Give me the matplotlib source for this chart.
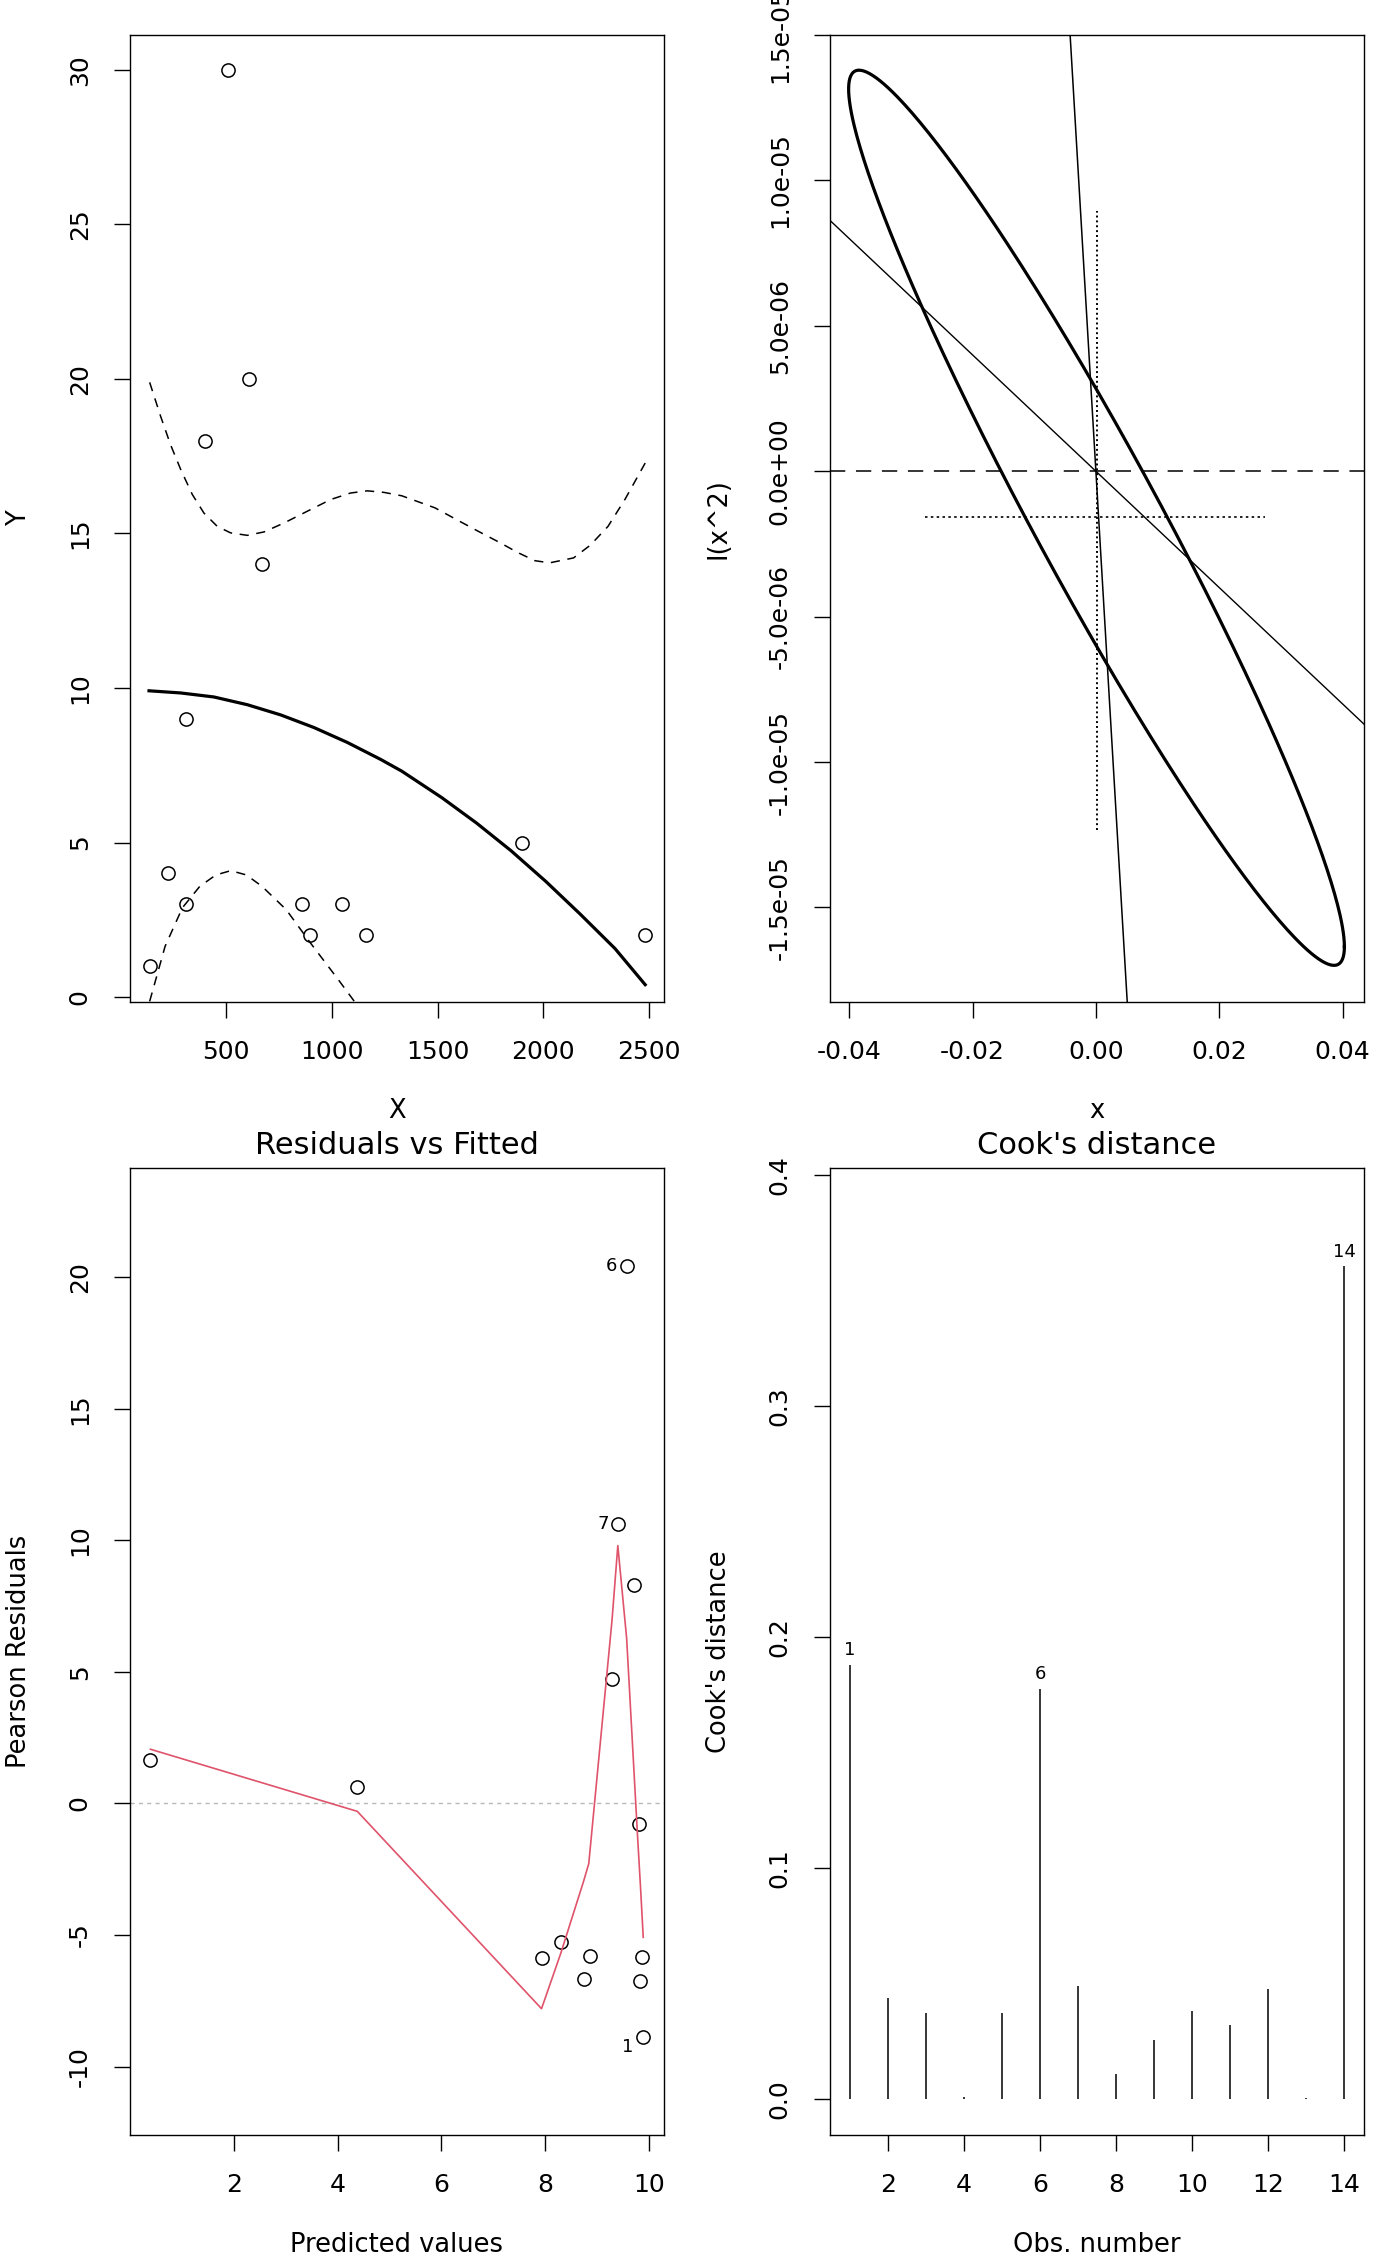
import numpy as np
import matplotlib
matplotlib.use("Agg")
import matplotlib.pyplot as plt

plt.rcParams['font.family'] = 'DejaVu Sans'
plt.rcParams['axes.unicode_minus'] = False

# observations (sorted by X)
X = [137, 226, 308, 308, 397, 506, 609, 668, 859, 898, 1049, 1160, 1900, 2482]
Y = [1, 4, 3, 9, 18, 30, 20, 14, 3, 2, 3, 2, 5, 2]

# fitted quadratic and bands
fit_x = [134, 284, 441, 599, 757, 915, 1072, 1230, 1330, 1520, 1684, 1848, 2012, 2175, 2339, 2482]
fit_y = [9.91, 9.84, 9.71, 9.46, 9.13, 8.72, 8.24, 7.69, 7.31, 6.45, 5.63, 4.73, 3.74, 2.68, 1.57, 0.40]
up_x = [137, 189, 236, 284, 339, 394, 457, 520, 599, 678, 773, 883, 994, 1088, 1167, 1246, 1330,
        1487, 1589, 1684, 1790, 1880, 1960, 2030, 2143, 2222, 2306, 2386, 2482]
up_y = [19.89, 18.79, 17.87, 17.07, 16.26, 15.66, 15.23, 15.02, 14.94, 15.05, 15.34, 15.72, 16.10,
        16.31, 16.38, 16.33, 16.22, 15.83, 15.45, 15.10, 14.72, 14.38, 14.12, 14.05, 14.21, 14.62,
        15.23, 16.10, 17.28]
lo_x = [137, 210, 292, 374, 450, 521, 595, 669, 783, 898, 1029, 1111]
lo_y = [-0.14, 1.64, 2.89, 3.58, 3.95, 4.09, 3.95, 3.58, 2.83, 1.75, 0.57, -0.19]

# confidence ellipse for (x, I(x^2)) coefficients
ell_center = (0.0001, -1.6e-6)
ell_half_w = 0.0402
ell_half_h = 15.39e-6
ell_rho = -0.958
slope_thin = -2.0e-4
slope_steep = -3.59e-3
ci_x = (-0.02771, 0.02742)      # horizontal dotted segment
ci_x_at = -1.59e-6
ci_y = (-12.33e-6, 8.94e-6)     # vertical dotted segment
ci_y_at = 0.0001

# residuals vs fitted
fitted = [0.394, 4.38, 7.93, 8.30, 8.74, 8.86, 9.29, 9.41, 9.58, 9.71, 9.80, 9.86, 9.82, 9.89]
resid = [1.65, 0.63, -5.86, -5.28, -6.69, -5.80, 4.73, 10.62, 20.44, 8.31, -0.77, -5.83, -6.74, -8.89]
res_ids = {'6': (9.58, 20.44), '7': (9.41, 10.62), '1': (9.89, -8.89)}
smooth_x = [0.394, 4.38, 7.93, 8.30, 8.74, 8.84, 9.29, 9.40, 9.57, 9.71, 9.78, 9.84, 9.89]
smooth_y = [2.06, -0.30, -7.80, -5.70, -2.96, -2.29, 7.00, 9.80, 6.28, 1.28, -1.23, -3.27, -5.09]

# Cook's distance
obs = np.arange(1, 15)
cook = [0.1879, 0.0436, 0.0370, 0.0008, 0.0370, 0.1776, 0.0489, 0.0107,
        0.0257, 0.0380, 0.0320, 0.0474, 0.0006, 0.3605]
cook_ids = [1, 6, 14]

W, H = 1400, 2266
fig = plt.figure(figsize=(W / 100, H / 100), dpi=100)

def box(l, t, w, h):
    return fig.add_axes([l / W, 1 - (t + h) / H, w / W, h / H])

def r_style(ax, xt, xl, yt, yl):
    for s in ax.spines.values():
        s.set_linewidth(1.0)
    ax.set_xticks(xt, xl)
    ax.set_yticks(yt, yl, rotation=90, va='center')
    ax.tick_params(direction='out', length=11.5, width=1.0, labelsize=18, pad=16)

AW, AH = 534, 967
ax1 = box(130, 35, AW, AH)
ax2 = box(830, 35, AW, AH)
ax3 = box(130, 1168, AW, AH)
ax4 = box(830, 1168, AW, AH)

# top left
ax1.plot(X, Y, 'o', mfc='none', mec='black', ms=9.5, mew=1.1)
ax1.plot(fit_x, fit_y, color='black', lw=2.3)
ax1.plot(up_x, up_y, color='black', lw=1.1, ls=(0, (6, 5)))
ax1.plot(lo_x, lo_y, color='black', lw=1.1, ls=(0, (6, 5)))
ax1.set_xlim(44, 2571)
ax1.set_ylim(-0.16, 31.13)
r_style(ax1, [500, 1000, 1500, 2000, 2500], ['500', '1000', '1500', '2000', '2500'],
        [0, 5, 10, 15, 20, 25, 30], ['0', '5', '10', '15', '20', '25', '30'])
ax1.set_xlabel('X', fontsize=18.5, labelpad=24)
ax1.set_ylabel('Y', fontsize=18.5, labelpad=26)

# top right
t = np.linspace(0, 2 * np.pi, 400)
ex = ell_center[0] + ell_half_w * np.cos(t)
ey = ell_center[1] + ell_half_h * (ell_rho * np.cos(t) + np.sqrt(1 - ell_rho ** 2) * np.sin(t))
ax2.plot(ex, ey, color='black', lw=2.3)
ax2.axline((0, 0), slope=slope_thin, color='black', lw=1.0)
ax2.axline((0, 0), slope=slope_steep, color='black', lw=1.1)
ax2.axhline(0, color='black', lw=1.1, ls=(0, (10, 7)))
ax2.plot(ci_x, [ci_x_at, ci_x_at], color='black', lw=1.2, ls=(0, (1.5, 2)))
ax2.plot([ci_y_at, ci_y_at], ci_y, color='black', lw=1.4, ls=(0, (1, 1.5)))
ax2.set_xlim(-0.04312, 0.04348)
ax2.set_ylim(-18.25e-6, 14.98e-6)
r_style(ax2, [-0.04, -0.02, 0, 0.02, 0.04], ['-0.04', '-0.02', '0.00', '0.02', '0.04'],
        [-1.5e-5, -1e-5, -5e-6, 0, 5e-6, 1e-5, 1.5e-5],
        ['-1.5e-05', '-1.0e-05', '-5.0e-06', '0.0e+00', '5.0e-06', '1.0e-05', '1.5e-05'])
ax2.set_xlabel('x', fontsize=18.5, labelpad=24)
ax2.set_ylabel('I(x^2)', fontsize=18.5, labelpad=26)

# bottom left
ax3.axhline(0, color='0.72', lw=1.0, ls=(0, (3, 3)))
ax3.plot(fitted, resid, 'o', mfc='none', mec='black', ms=9.5, mew=1.1)
ax3.plot(smooth_x, smooth_y, color='#DF536B', lw=1.2)
for lab, (fx, ry) in res_ids.items():
    dy = -7 if ry < 0 else 0
    ax3.annotate(lab, (fx, ry), xytext=(-7, dy), textcoords='offset points',
                 ha='right', va='center', fontsize=13)
ax3.set_xlim(0.0, 10.29)
ax3.set_ylim(-12.6, 24.15)
r_style(ax3, [2, 4, 6, 8, 10], ['2', '4', '6', '8', '10'],
        [-10, -5, 0, 5, 10, 15, 20], ['-10', '-5', '0', '5', '10', '15', '20'])
ax3.set_xlabel('Predicted values', fontsize=18.5, labelpad=25)
ax3.set_ylabel('Pearson Residuals', fontsize=18.5, labelpad=26)
ax3.set_title('Residuals vs Fitted', fontsize=22, pad=10)

# bottom right
ax4.vlines(obs, 0, cook, color='black', lw=1.1)
for i in cook_ids:
    ax4.annotate(str(i), (i, cook[i - 1]), xytext=(0, 4), textcoords='offset points',
                 ha='center', va='bottom', fontsize=13)
ax4.set_xlim(0.48, 14.52)
ax4.set_ylim(-0.0156, 0.403)
r_style(ax4, [2, 4, 6, 8, 10, 12, 14], ['2', '4', '6', '8', '10', '12', '14'],
        [0, 0.1, 0.2, 0.3, 0.4], ['0.0', '0.1', '0.2', '0.3', '0.4'])
ax4.set_xlabel('Obs. number', fontsize=18.5, labelpad=25)
ax4.set_ylabel("Cook's distance", fontsize=18.5, labelpad=26)
ax4.set_title("Cook's distance", fontsize=22, pad=10)

fig.savefig('out.png', dpi=100)
